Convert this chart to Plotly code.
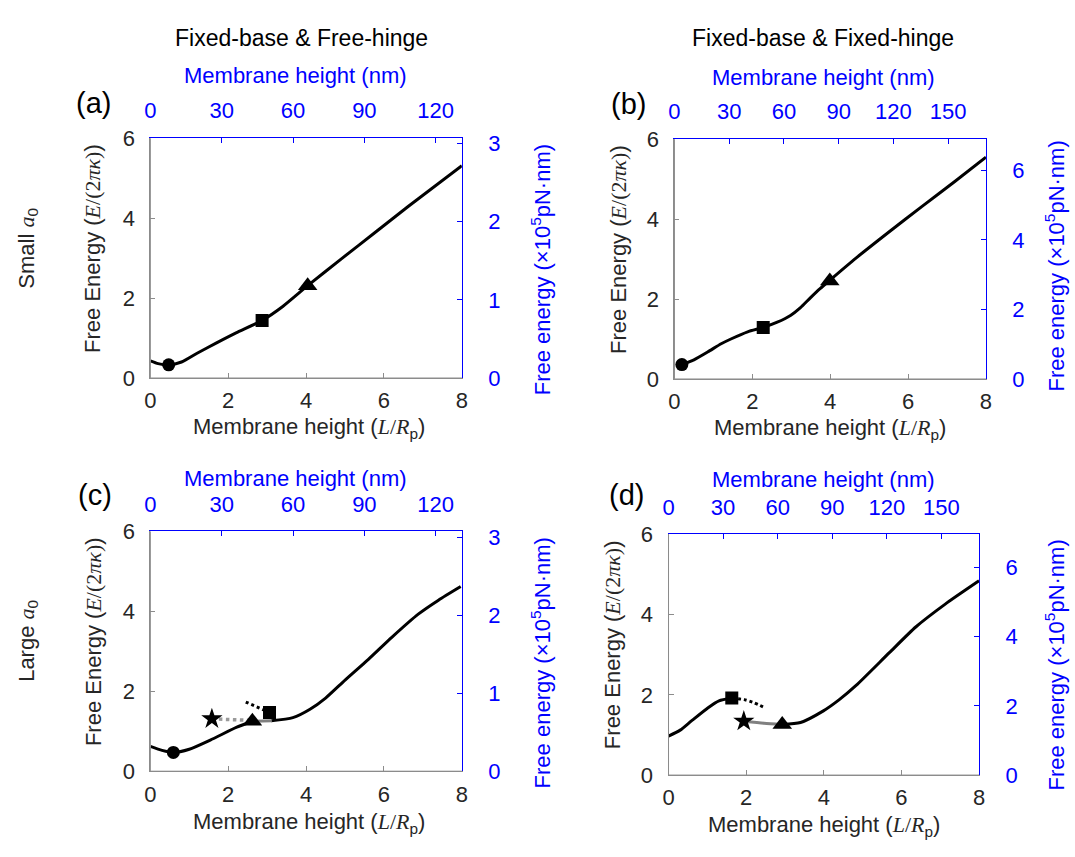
import plotly.graph_objects as go

# ---------------- data ----------------
# Panel (a): Fixed-base & Free-hinge, small a0
a_x = [0.0, 0.2, 0.47, 0.8, 1.2, 1.7, 2.2, 2.87, 3.4, 4.04, 4.93, 5.77, 6.62, 8.0]
a_y = [0.43, 0.36, 0.33, 0.40, 0.62, 0.88, 1.13, 1.44, 1.79, 2.31, 3.0, 3.64, 4.29, 5.31]
a_circle = (0.47, 0.33)
a_square = (2.87, 1.44)
a_triangle = (4.04, 2.31)

# Panel (b): Fixed-base & Fixed-hinge, small a0
b_x = [0.19, 0.5, 0.86, 1.2, 1.45, 1.88, 2.28, 2.64, 2.98, 3.23, 3.49, 3.74, 3.99, 4.67, 5.5, 6.36, 7.2, 8.0]
b_y = [0.36, 0.48, 0.68, 0.88, 1.0, 1.18, 1.29, 1.42, 1.59, 1.78, 2.03, 2.26, 2.47, 3.03, 3.67, 4.32, 4.94, 5.55]
b_circle = (0.19, 0.36)
b_square = (2.28, 1.29)
b_triangle = (3.99, 2.45)

# Panel (c): Fixed-base & Free-hinge, large a0
c_branch1_x = [0.0, 0.3, 0.59, 1.0, 1.54, 2.22, 2.62]
c_branch1_y = [0.62, 0.52, 0.47, 0.55, 0.78, 1.10, 1.25]
c_branch2_x = [3.1, 3.66, 4.1, 4.5, 5.0, 5.6, 6.2, 6.88, 7.4, 7.97]
c_branch2_y = [1.26, 1.34, 1.55, 1.83, 2.28, 2.80, 3.35, 3.93, 4.28, 4.62]
c_gray_x = [2.62, 3.12]
c_gray_y = [1.25, 1.26]
c_graydash_x = [1.58, 2.62]
c_graydash_y = [1.31, 1.27]
c_dot_x = [2.45, 2.65, 2.85, 3.06]
c_dot_y = [1.73, 1.64, 1.55, 1.47]
c_circle = (0.59, 0.47)
c_square = (3.06, 1.47)
c_triangle = (2.62, 1.25)
c_star = (1.58, 1.31)

# Panel (d): Fixed-base & Fixed-hinge, large a0
d_branch1_x = [0.0, 0.3, 0.59, 1.02, 1.3, 1.63]
d_branch1_y = [0.97, 1.12, 1.35, 1.68, 1.85, 1.92]
d_branch2_x = [2.93, 3.40, 3.99, 4.4, 4.84, 5.69, 6.37, 7.13, 8.0]
d_branch2_y = [1.26, 1.31, 1.60, 1.88, 2.24, 3.05, 3.69, 4.26, 4.84]
d_gray_x = [1.94, 2.46, 2.93]
d_gray_y = [1.34, 1.29, 1.26]
d_dot_x = [1.63, 1.95, 2.21, 2.48]
d_dot_y = [1.92, 1.88, 1.80, 1.68]
d_square = (1.63, 1.92)
d_triangle = (2.93, 1.26)
d_star = (1.94, 1.34)

bottom_ticks = [0, 2, 4, 6, 8]
left_ticks = [0, 2, 4, 6]
top_ticks_free = [0, 30, 60, 90, 120]
top_ticks_fixed = [0, 30, 60, 90, 120, 150]
right_ticks_free = [0, 1, 2, 3]
right_ticks_fixed = [0, 2, 4, 6]

# ---------------- figure ----------------
W, H = 1075, 857
SANS = "Liberation Sans, Arial, Helvetica, sans-serif"
BLUE = "#0000ff"
DARK = "#262626"
GRAY = "#808080"
FRAME = "#8c8c8c"

fig = go.Figure()

# panel geometry in pixels: (left, right, top, bottom)
panels = {
    1: (146, 461, 130, 377),
    2: (676, 991, 131, 378),
    3: (146, 461, 535, 782),
    4: (670, 984, 538, 786),
}
top_range = {1: 131.0, 2: 170.7, 3: 131.0, 4: 170.7}
top_ticks = {1: top_ticks_free, 2: top_ticks_fixed, 3: top_ticks_free, 4: top_ticks_fixed}
right_range = {1: 3.07, 2: 6.9, 3: 3.08, 4: 6.96}
right_ticks = {1: right_ticks_free, 2: right_ticks_fixed, 3: right_ticks_free, 4: right_ticks_fixed}
main_curve = {1: (a_x, a_y), 2: (b_x, b_y), 3: (c_branch2_x, c_branch2_y), 4: (d_branch2_x, d_branch2_y)}


def ax_name(n, letter):
    return letter if n == 1 else f"{letter}{n}"


def line(k, xs, ys, color="black", width=3, dash="solid", shape="spline"):
    fig.add_trace(go.Scatter(
        x=xs, y=ys, mode="lines",
        line=dict(color=color, width=width, dash=dash, shape=shape, smoothing=0.6),
        xaxis=ax_name(2 * k - 1, "x"), yaxis=ax_name(2 * k - 1, "y"),
        showlegend=False, hoverinfo="skip"))


def marker(k, pt, symbol, size):
    fig.add_trace(go.Scatter(
        x=[pt[0]], y=[pt[1]], mode="markers",
        marker=dict(symbol=symbol, size=size, color="black", line=dict(width=0)),
        xaxis=ax_name(2 * k - 1, "x"), yaxis=ax_name(2 * k - 1, "y"),
        showlegend=False, hoverinfo="skip"))


# (a)
line(1, a_x, a_y)
marker(1, a_circle, "circle", 13)
marker(1, a_square, "square", 13)
marker(1, a_triangle, "triangle-up", 17)
# (b)
line(2, b_x, b_y)
marker(2, b_circle, "circle", 13)
marker(2, b_square, "square", 13)
marker(2, b_triangle, "triangle-up", 17)
# (c)
line(3, c_branch1_x, c_branch1_y)
line(3, c_branch2_x, c_branch2_y)
line(3, c_gray_x, c_gray_y, color=GRAY, width=3, shape="linear")
line(3, c_graydash_x, c_graydash_y, color="#9a9a9a", width=3.5, dash="dot", shape="linear")
line(3, c_dot_x, c_dot_y, color="black", width=3, dash="dot", shape="linear")
marker(3, c_circle, "circle", 13)
marker(3, c_square, "square", 13)
marker(3, c_triangle, "triangle-up", 17)
marker(3, c_star, "star", 16)
# (d)
line(4, d_branch1_x, d_branch1_y)
line(4, d_branch2_x, d_branch2_y)
line(4, d_gray_x, d_gray_y, color=GRAY, width=3)
line(4, d_dot_x, d_dot_y, color="black", width=3, dash="dot")
marker(4, d_square, "square", 13)
marker(4, d_triangle, "triangle-up", 17)
marker(4, d_star, "star", 16)

# the same curve expressed in physical units (nm, 1e5 pN.nm) registers the
# secondary axes; drawn fully transparent on top of the main curve
for k, (cx, cy) in main_curve.items():
    fig.add_trace(go.Scatter(
        x=[v * top_range[k] / 8 for v in cx], y=[v * right_range[k] / 6 for v in cy],
        mode="markers", marker=dict(opacity=0, size=1),
        xaxis=ax_name(2 * k, "x"), yaxis=ax_name(2 * k, "y"),
        showlegend=False, hoverinfo="skip"))

layout = dict(
    width=W, height=H, autosize=False,
    margin=dict(l=0, r=0, t=0, b=0),
    paper_bgcolor="white", plot_bgcolor="rgba(0,0,0,0)",
    font=dict(family=SANS, size=22, color=DARK),
)

shapes = []
for k, (l, r, t, b) in panels.items():
    xd = [l / W, r / W]
    yd = [1 - b / H, 1 - t / H]
    xb, xt = 2 * k - 1, 2 * k
    yl, yr = 2 * k - 1, 2 * k
    common = dict(showgrid=False, zeroline=False, showline=True, linewidth=1,
                  ticks="inside", ticklen=5, tickwidth=1, layer="above traces")
    layout[f"xaxis{xb}"] = dict(
        domain=xd, range=[0, 8], anchor=ax_name(yl, "y"), side="bottom",
        tickvals=bottom_ticks, linecolor=FRAME, tickcolor=FRAME,
        tickfont=dict(size=22, color=DARK, family=SANS), ticklabelstandoff=3, **common)
    layout[f"xaxis{xt}"] = dict(
        range=[0, top_range[k]], overlaying=ax_name(xb, "x"), anchor=ax_name(yl, "y"),
        side="top", tickvals=top_ticks[k], linecolor=BLUE, tickcolor=BLUE,
        tickfont=dict(size=22, color=BLUE, family=SANS), ticklabelstandoff=10, **common)
    layout[f"yaxis{yl}"] = dict(
        domain=yd, range=[0, 6], anchor=ax_name(xb, "x"), side="left",
        tickvals=left_ticks, linecolor=FRAME, tickcolor=FRAME,
        tickfont=dict(size=22, color=DARK, family=SANS), ticklabelstandoff=10, **common)
    layout[f"yaxis{yr}"] = dict(
        range=[0, right_range[k]], overlaying=ax_name(yl, "y"), anchor=ax_name(xb, "x"),
        side="right", tickvals=right_ticks[k], linecolor=BLUE, tickcolor=BLUE,
        tickfont=dict(size=22, color=BLUE, family=SANS), ticklabelstandoff=21, **common)
    # gray frame edges on the left and bottom
    shapes.append(dict(type="line", xref="paper", yref="paper", x0=xd[0], x1=xd[1], y0=yd[0], y1=yd[0],
                       line=dict(color=FRAME, width=1), layer="above"))
    shapes.append(dict(type="line", xref="paper", yref="paper", x0=xd[0], x1=xd[0], y0=yd[0], y1=yd[1],
                       line=dict(color=FRAME, width=1), layer="above"))

layout["shapes"] = shapes
fig.update_layout(**layout)

SERIF = "Liberation Serif, Times New Roman, serif"
left_title = f"Free Energy (<span style='font-family:{SERIF}'><i>E</i>/(2<i>πκ</i>)</span>)"
right_title = "Free energy (×10<sup>5</sup>pN·nm)"
bottom_title = f"Membrane height (<span style='font-family:{SERIF}'><i>L</i>/<i>R</i></span><sub>p</sub>)"
top_title = "Membrane height (nm)"


def ann(px, py, text, size=22, color=DARK, angle=0):
    fig.add_annotation(x=px / W, y=1 - py / H, xref="paper", yref="paper",
                       text=text, showarrow=False, textangle=angle,
                       xanchor="center", yanchor="middle",
                       font=dict(family=SANS, size=size, color=color))


# column titles
ann(299, 27, "Fixed-base &amp; Free-hinge", size=23, color="black")
ann(826, 27, "Fixed-base &amp; Fixed-hinge", size=23, color="black")
# row labels
ann(22, 243, f"Small <span style='font-family:{SERIF}'><i>a</i></span><sub>0</sub>", size=22, color=DARK, angle=-90)
ann(22, 648, f"Large <span style='font-family:{SERIF}'><i>a</i></span><sub>0</sub>", size=22, color=DARK, angle=-90)
# panel letters
ann(88, 94, "(a)", size=29, color="black")
ann(630, 95, "(b)", size=29, color="black")
ann(90, 497, "(c)", size=29, color="black")
ann(627, 497, "(d)", size=29, color="black")

# axis titles
title_pos = {
    1: dict(top=(293, 65), bottom=(306, 429), left=(88, 244), right=(541, 265)),
    2: dict(top=(827, 67), bottom=(833, 430), left=(620, 245), right=(1061, 262)),
    3: dict(top=(293, 481), bottom=(306, 835), left=(88, 649), right=(541, 670)),
    4: dict(top=(827, 482), bottom=(827, 838), left=(614, 652), right=(1061, 673)),
}
for k, p in title_pos.items():
    ann(*p["top"], top_title, color=BLUE)
    ann(*p["bottom"], bottom_title, color=DARK)
    ann(*p["left"], left_title, color=DARK, angle=-90)
    ann(*p["right"], right_title, color=BLUE, angle=-90)

fig.write_html("out.html")
